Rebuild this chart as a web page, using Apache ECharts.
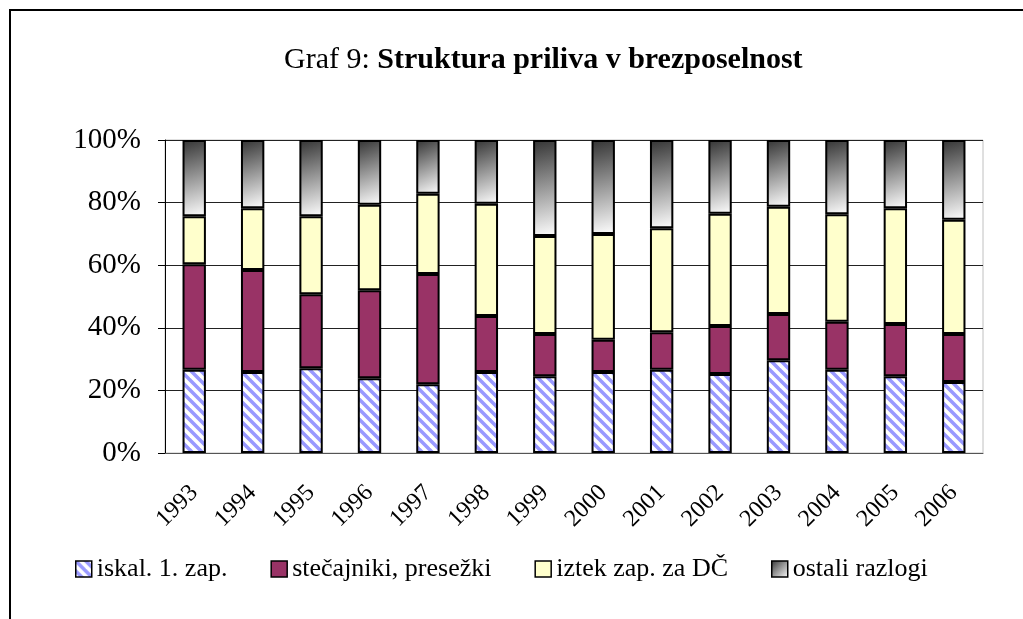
<!DOCTYPE html>
<html lang="sl">
<head>
<meta charset="utf-8">
<title>Graf 9</title>
<script src="https://cdn.jsdelivr.net/npm/echarts@6/dist/echarts.min.js"></script>
<style>
  html, body { margin: 0; padding: 0; background: #fff; }
  #main { width: 1023px; height: 619px; }
</style>
</head>
<body>
<div id="main"></div>
<script type="text/javascript">
  // leta
  var years = ['1993', '1994', '1995', '1996', '1997', '1998', '1999',
               '2000', '2001', '2002', '2003', '2004', '2005', '2006'];
  // delezi posameznih razlogov (v %)
  var iskal    = [26.6, 25.9, 27.1, 23.9, 22.0, 25.9, 24.5, 25.9, 26.6, 25.2, 29.6, 26.6, 24.5, 22.7];
  var stecajni = [33.7, 32.6, 23.6, 28.1, 35.2, 17.9, 13.5, 10.3, 12.0, 15.4, 14.8, 15.3, 16.7, 15.3];
  var iztek    = [15.3, 19.7, 24.9, 27.3, 25.6, 35.8, 31.3, 33.8, 33.2, 35.8, 34.3, 34.4, 37.0, 36.5];
  var ostali   = [24.4, 21.8, 24.4, 20.7, 17.2, 20.4, 30.7, 30.0, 28.2, 23.6, 21.3, 23.7, 21.8, 25.5];
  var names = ['iskal. 1. zap.', 'stečajniki, presežki', 'iztek zap. za DČ', 'ostali razlogi'];
  var yTicks = [0, 20, 40, 60, 80, 100];

  var font = '"Liberation Serif", "Times New Roman", serif';

  // srafura za prvo serijo
  var hatch = document.createElement('canvas');
  hatch.width = 10;
  hatch.height = 10;
  var hc = hatch.getContext('2d');
  hc.fillStyle = '#ffffff';
  hc.fillRect(0, 0, 10, 10);
  hc.strokeStyle = '#9999ff';
  hc.lineWidth = 3.5;
  [-10, 0, 10].forEach(function (c) {
    hc.beginPath();
    hc.moveTo(-2, -2 + c);
    hc.lineTo(12, 12 + c);
    hc.stroke();
  });

  var chart = echarts.init(document.getElementById('main'), null, { renderer: 'canvas' });

  function bar(name, data, color) {
    return {
      name: name,
      type: 'bar',
      stack: 'total',
      barWidth: '40%',
      data: data,
      itemStyle: { color: color, borderColor: '#000', borderWidth: 2 },
      emphasis: { disabled: true }
    };
  }

  var option = {
    animation: false,
    backgroundColor: '#fff',
    graphic: [{
      type: 'rect',
      shape: { x: 10, y: 10, width: 1100, height: 700 },
      style: { fill: 'none', stroke: '#000', lineWidth: 2 },
      silent: true
    }],
    title: {
      text: '{a|Graf 9: }{b|Struktura priliva v brezposelnost}',
      left: 279,
      top: 40,
      textStyle: {
        fontWeight: 'normal',
        rich: {
          a: { fontFamily: font, fontSize: 30, fontWeight: 'normal', color: '#000' },
          b: { fontFamily: font, fontSize: 30, fontWeight: 'bold', color: '#000' }
        }
      }
    },
    grid: {
      left: 165, right: 40, top: 140, bottom: 166,
      show: true, borderColor: '#c0c0c0', borderWidth: 1
    },
    legend: {
      data: names,
      left: 70,
      top: 551,
      itemWidth: 16,
      itemHeight: 16,
      itemGap: 43,
      icon: 'rect',
      itemStyle: { borderColor: '#000', borderWidth: 1.5 },
      textStyle: { fontFamily: font, fontSize: 26, color: '#000' }
    },
    xAxis: {
      type: 'category',
      data: years,
      axisLine: { lineStyle: { color: '#555', width: 1 } },
      axisTick: { length: 7, lineStyle: { color: '#000' } },
      axisLabel: {
        rotate: 45,
        margin: 36,
        fontFamily: font,
        fontSize: 24,
        color: '#000'
      }
    },
    yAxis: {
      type: 'value',
      min: yTicks[0],
      max: yTicks[yTicks.length - 1],
      interval: 20,
      axisLine: { show: true, lineStyle: { color: '#000', width: 1 } },
      axisTick: { show: true, length: 7, lineStyle: { color: '#000' } },
      splitLine: { lineStyle: { color: '#222', width: 1 } },
      axisLabel: {
        formatter: '{value}%',
        margin: 24,
        fontFamily: font,
        fontSize: 29,
        color: '#000'
      }
    },
    series: [
      bar(names[0], iskal, { image: hatch, repeat: 'repeat' }),
      bar(names[1], stecajni, '#993366'),
      bar(names[2], iztek, '#ffffcc'),
      bar(names[3], ostali, new echarts.graphic.LinearGradient(0, 0, 1, 1, [
        { offset: 0, color: '#333333' },
        { offset: 1, color: '#ffffff' }
      ]))
    ]
  };

  chart.setOption(option);
</script>
</body>
</html>
